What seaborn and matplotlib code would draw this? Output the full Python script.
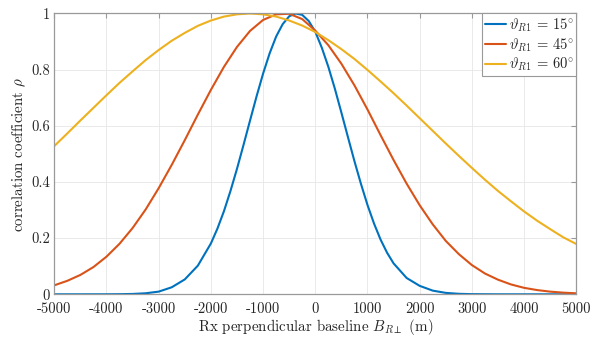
import numpy as np
import pandas as pd
import matplotlib
matplotlib.use("Agg")
import matplotlib.pyplot as plt
import seaborn as sns

# ---- data ----
x_15 = [-5000, -4500, -4000, -3750, -3500, -3250, -3000, -2750, -2500, -2250,
        -2000, -1875, -1750, -1625, -1500, -1375, -1250, -1125, -1000, -875,
        -750, -625, -500, -375, -250, -125, 0, 125, 250, 375,
        500, 625, 750, 875, 1000, 1125, 1250, 1375, 1500, 1750,
        2000, 2250, 2500, 2750, 3000, 3500, 4000, 5000]
rho_15 = [0.0, 0.0, 0.0001, 0.0004, 0.0012, 0.0036, 0.0095, 0.025, 0.053, 0.102,
          0.181, 0.234, 0.296, 0.368, 0.447, 0.532, 0.619, 0.705, 0.786, 0.858,
          0.918, 0.962, 0.990, 1.0, 0.995, 0.973, 0.935, 0.878, 0.810, 0.732,
          0.647, 0.560, 0.474, 0.393, 0.318, 0.252, 0.195, 0.148, 0.110, 0.058,
          0.030, 0.013, 0.005, 0.0017, 0.0005, 0.0, 0.0, 0.0]

x_grid = [-5000, -4750, -4500, -4250, -4000, -3750, -3500, -3250, -3000, -2750,
          -2500, -2250, -2000, -1750, -1500, -1250, -1000, -750, -500, -250,
          0, 250, 500, 750, 1000, 1250, 1500, 1750, 2000, 2250,
          2500, 2750, 3000, 3250, 3500, 3750, 4000, 4250, 4500, 4750, 5000]
rho_45 = [0.032, 0.048, 0.069, 0.097, 0.134, 0.180, 0.236, 0.302, 0.378, 0.461,
          0.549, 0.640, 0.728, 0.810, 0.881, 0.938, 0.977, 0.997, 0.999, 0.980,
          0.939, 0.887, 0.821, 0.744, 0.658, 0.567, 0.478, 0.394, 0.317, 0.249,
          0.190, 0.143, 0.104, 0.074, 0.052, 0.035, 0.023, 0.015, 0.0094, 0.0058, 0.0035]
rho_60 = [0.528, 0.573, 0.619, 0.664, 0.709, 0.753, 0.794, 0.834, 0.870, 0.903,
          0.931, 0.956, 0.975, 0.989, 0.997, 1.0, 0.997, 0.989, 0.975, 0.957,
          0.934, 0.905, 0.873, 0.838, 0.799, 0.758, 0.716, 0.672, 0.627, 0.582,
          0.537, 0.493, 0.450, 0.408, 0.368, 0.331, 0.295, 0.262, 0.232, 0.203, 0.179]

labels = [r'$\vartheta_{R1}\,=\,15^{\circ}$',
          r'$\vartheta_{R1}\,=\,45^{\circ}$',
          r'$\vartheta_{R1}\,=\,60^{\circ}$']
colors = ['#0072BD', '#D95319', '#EDB120']
xticks = [-5000, -4000, -3000, -2000, -1000, 0, 1000, 2000, 3000, 4000, 5000]
yticks = [0, 0.2, 0.4, 0.6, 0.8, 1]
yticklabels = ['0', '0.2', '0.4', '0.6', '0.8', '1']

df = pd.concat([
    pd.DataFrame({'x': x_15, 'rho': rho_15, 'case': labels[0]}),
    pd.DataFrame({'x': x_grid, 'rho': rho_45, 'case': labels[1]}),
    pd.DataFrame({'x': x_grid, 'rho': rho_60, 'case': labels[2]}),
], ignore_index=True)

sns.set_theme(style="white")
plt.rcParams['font.family'] = ['cmr10', 'DejaVu Serif']
plt.rcParams['mathtext.fontset'] = 'cm'
plt.rcParams['axes.unicode_minus'] = False
plt.rcParams['axes.formatter.use_mathtext'] = False

fig = plt.figure(figsize=(6.02, 3.39), dpi=100)
ax = fig.add_axes([0.0902, 0.1319, 0.8671, 0.8283])

sns.lineplot(data=df, x='x', y='rho', hue='case', palette=colors,
             hue_order=labels, estimator=None, sort=False, linewidth=1.5, ax=ax)
for ln in ax.get_lines():
    ln.set_solid_joinstyle('round')

ax.set_xlim(-5000, 5000)
ax.set_ylim(0, 1)
ax.set_xticks(xticks)
ax.set_xticklabels([str(t) for t in xticks])
ax.set_yticks(yticks)
ax.set_yticklabels(yticklabels)
ax.grid(True, color='#e6e6e6', linewidth=0.6)
ax.set_axisbelow(True)

tc = '#262626'
for s in ax.spines.values():
    s.set_color('#999999')
    s.set_linewidth(0.9)
ax.tick_params(direction='in', length=3.5, width=0.8, color='#999999',
               top=True, right=True, labelsize=10.5, labelcolor=tc)
ax.tick_params(axis='x', pad=6)
ax.tick_params(axis='y', pad=3)

ax.set_xlabel(r'Rx perpendicular baseline $B_{R\perp}$ (m)', fontsize=10.8, color=tc, labelpad=0.5)
ax.set_ylabel(r'correlation coefficient $\rho$', fontsize=10.8, color=tc, labelpad=2)

handles, labs = ax.get_legend_handles_labels()
leg = ax.legend(handles, labs, loc='upper right', borderaxespad=0.0, fancybox=False,
                framealpha=1, edgecolor='#999999', fontsize=10.5, handlelength=1.4,
                handletextpad=0.2, borderpad=0.2, labelspacing=0.15)
leg.get_frame().set_linewidth(0.8)
for t in leg.get_texts():
    t.set_color(tc)

fig.savefig('out.png', dpi=100)
